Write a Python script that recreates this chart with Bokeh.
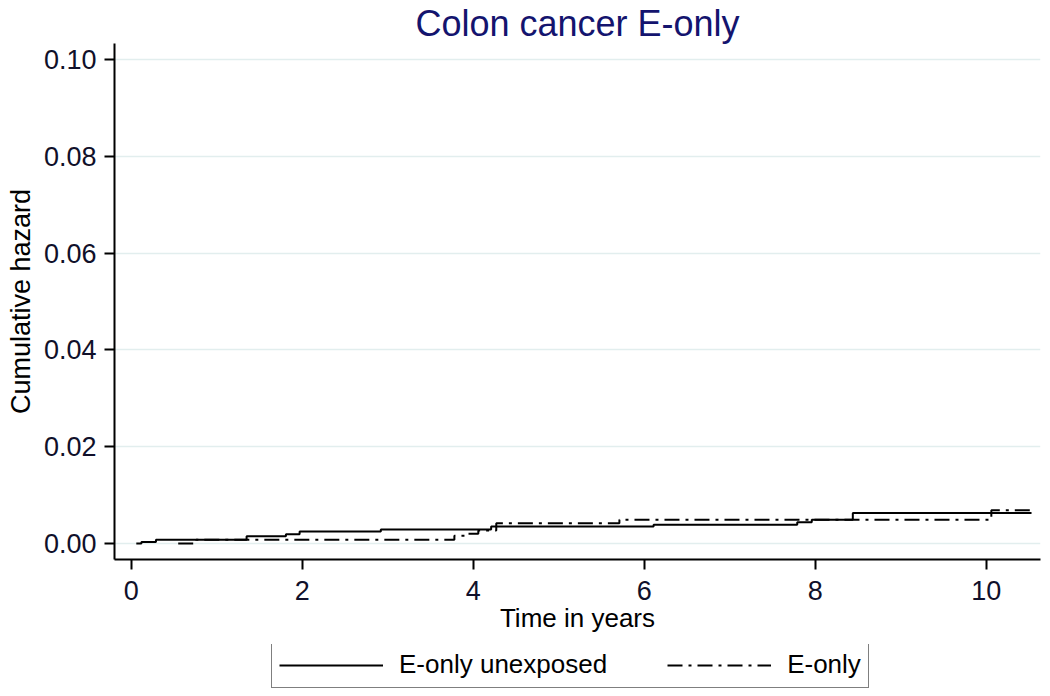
from bokeh.plotting import figure
from bokeh.layouts import column
from bokeh.models import Range1d, FixedTicker, PrintfTickFormatter, Legend, LegendItem
from bokeh.embed import file_html
from bokeh.resources import INLINE

# ---- data ----
times_unexposed = [0.06, 0.12, 0.29, 1.35, 1.81, 1.97, 2.92, 4.21, 6.11, 7.79, 7.96, 8.44, 10.53]
cumhaz_unexposed = [0.0, 0.0003, 0.0008, 0.0015, 0.0019, 0.0025, 0.0029, 0.0035, 0.0039, 0.0044, 0.0049, 0.0063, 0.0063]

times_eonly = [0.55, 0.76, 3.78, 3.92, 4.06, 4.27, 5.71, 10.06, 10.55]
cumhaz_eonly = [0.0, 0.0008, 0.0016, 0.0020, 0.0027, 0.0042, 0.0049, 0.0069, 0.0069]

x_ticks = [0, 2, 4, 6, 8, 10]
y_ticks = [0.0, 0.02, 0.04, 0.06, 0.08, 0.10]

title_text = "Colon cancer E-only"
x_label = "Time in years"
y_label = "Cumulative hazard"
series_names = ["E-only unexposed", "E-only"]

FONT = "Liberation Sans"
DASH = "15 6 3 6"

p = figure(width=1050, height=644, output_backend="svg", toolbar_location=None,
           x_range=Range1d(-0.195, 10.635), y_range=Range1d(-0.0033, 0.1033),
           min_border_left=114, min_border_right=10, min_border_top=0, min_border_bottom=85,
           title=title_text)

p.title.text_font = FONT
p.title.text_font_size = "36px"
p.title.text_font_style = "normal"
p.title.text_color = "#14146e"
p.title.align = "center"
p.title.standoff = 0
p.title.offset = 0

p.outline_line_color = None
p.background_fill_color = "white"
p.border_fill_color = "white"

# grids
p.xgrid.grid_line_color = None
p.ygrid.grid_line_color = "#e2eeee"
p.ygrid.grid_line_width = 1.5
p.ygrid.ticker = FixedTicker(ticks=y_ticks)

for ax in (p.xaxis[0], p.yaxis[0]):
    ax.axis_line_color = "black"
    ax.axis_line_width = 2
    ax.major_tick_line_color = "black"
    ax.major_tick_line_width = 2
    ax.major_tick_in = 0
    ax.major_tick_out = 10
    ax.minor_tick_line_color = None
    ax.major_label_text_font = FONT
    ax.major_label_text_font_size = "27px"
    ax.major_label_text_color = "#10102a"
    ax.axis_label_text_font = FONT
    ax.axis_label_text_font_size = "26px"
    ax.axis_label_text_font_style = "normal"
    ax.axis_label_text_color = "black"

p.xaxis[0].ticker = FixedTicker(ticks=x_ticks)
p.yaxis[0].ticker = FixedTicker(ticks=y_ticks)
p.yaxis[0].formatter = PrintfTickFormatter(format="%.2f")
p.yaxis[0].major_label_orientation = "horizontal"
p.xaxis[0].axis_label = x_label
p.yaxis[0].axis_label = y_label
p.yaxis[0].axis_label_text_font_size = "27px"
p.xaxis[0].major_label_standoff = 11
p.xaxis[0].axis_label_standoff = 0
p.yaxis[0].major_label_standoff = 8
p.yaxis[0].axis_label_standoff = 5

r1 = p.step(times_unexposed, cumhaz_unexposed, mode="after", line_color="black", line_width=2)
r2 = p.step(times_eonly, cumhaz_eonly, mode="after", line_color="black", line_width=2,
            line_dash=DASH)

# ---- legend strip below the plot (its own lines are kept outside its view) ----
q = figure(width=1050, height=52, output_backend="svg", toolbar_location=None,
           x_axis_location=None, y_axis_location=None,
           x_range=Range1d(0, 11), y_range=Range1d(-2, -1),
           min_border_left=114, min_border_right=10, min_border_top=0, min_border_bottom=0)
q.outline_line_color = None
q.xgrid.grid_line_color = None
q.ygrid.grid_line_color = None
g1 = q.step(times_unexposed, cumhaz_unexposed, mode="after", line_color="black", line_width=2)
g2 = q.step(times_eonly, cumhaz_eonly, mode="after", line_color="black", line_width=2, line_dash=DASH)

legend = Legend(items=[LegendItem(label=series_names[0], renderers=[g1]),
                       LegendItem(label=series_names[1], renderers=[g2])],
                orientation="horizontal", location=(157, 8))
legend.label_text_font = FONT
legend.label_text_font_size = "26px"
legend.label_text_color = "black"
legend.glyph_width = 104
legend.glyph_height = 20
legend.label_standoff = 16
legend.spacing = 60
legend.padding = 7
legend.margin = 0
legend.border_line_color = "black"
legend.border_line_width = 1.5
legend.background_fill_color = "white"
q.add_layout(legend, "center")

layout = column(p, q, spacing=0)
open("out.html", "w").write(file_html(layout, INLINE))
